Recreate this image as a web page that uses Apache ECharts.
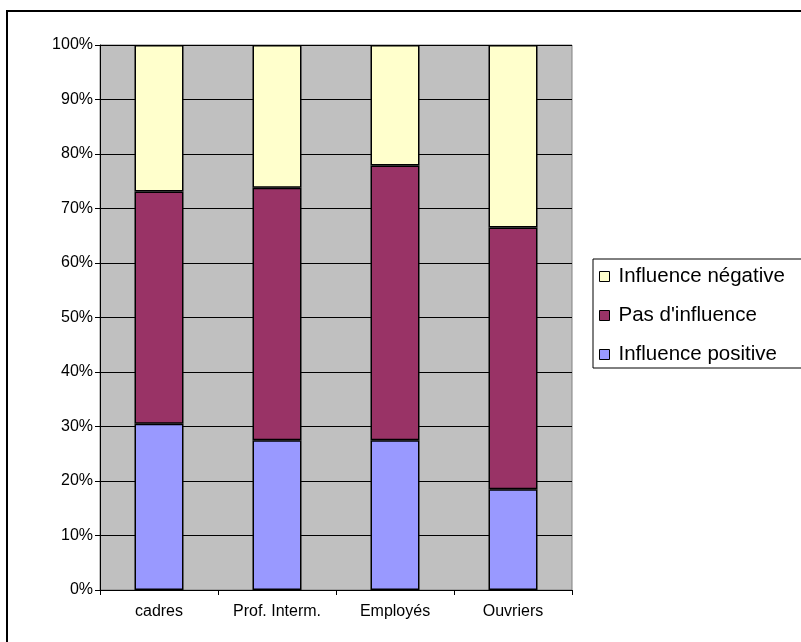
<!DOCTYPE html>
<html>
<head>
<meta charset="utf-8">
<script src="https://cdn.jsdelivr.net/npm/echarts@6/dist/echarts.min.js"></script>
<style>
html,body{margin:0;padding:0;background:#fff;}
#c{width:801px;height:642px;}
</style>
</head>
<body>
<div id="c"></div>
<script>
var categories = ['cadres', 'Prof. Interm.', 'Employés', 'Ouvriers'];
var seriesNames = ['Influence positive', "Pas d'influence", 'Influence négative'];
var positive = [0.305, 0.275, 0.275, 0.185];
var pasInfluence = [0.426, 0.463, 0.504, 0.480];
var negative = [0.269, 0.262, 0.221, 0.335];
var yTicks = [0, 0.1, 0.2, 0.3, 0.4, 0.5, 0.6, 0.7, 0.8, 0.9, 1];

var colors = ['#9999FF', '#993366', '#FFFFCC'];
var font = 'Arial, "Liberation Sans", sans-serif';

var chart = echarts.init(document.getElementById('c'), null, {renderer: 'canvas'});

function mk(name, data, color) {
  return {
    name: name,
    type: 'bar',
    stack: 'total',
    barWidth: 49,
    data: data,
    itemStyle: {color: color, borderColor: '#000', borderWidth: 1.5},
    emphasis: {disabled: true}
  };
}

chart.setOption({
  animation: false,
  backgroundColor: '#fff',
  graphic: [{
    type: 'rect',
    shape: {x: 7, y: 11, width: 820, height: 660},
    style: {fill: 'none', stroke: '#000', lineWidth: 2},
    z: 100
  }],
  grid: {
    left: 100, top: 45, right: 229, bottom: 52,
    show: true, backgroundColor: '#C0C0C0', borderColor: '#808080', borderWidth: 1
  },
  legend: {
    orient: 'vertical',
    left: 593, top: 259,
    data: [seriesNames[2], seriesNames[1], seriesNames[0]],
    itemWidth: 10, itemHeight: 10, itemGap: 18,
    icon: 'rect',
    backgroundColor: '#fff', borderColor: '#000', borderWidth: 1,
    padding: [7, 40, 3, 6],
    selectedMode: false,
    itemStyle: {borderColor: '#000', borderWidth: 1},
    textStyle: {fontFamily: font, fontSize: 20.5, color: '#000', lineHeight: 20, padding: [0, 0, 0, 4]}
  },
  xAxis: {
    type: 'category',
    data: categories,
    axisLine: {show: true, lineStyle: {color: '#000', width: 1}},
    axisTick: {show: true, length: 5, lineStyle: {color: '#000'}},
    axisLabel: {fontFamily: font, fontSize: 16, color: '#000', margin: 14},
    splitLine: {show: false}
  },
  yAxis: {
    type: 'value',
    min: yTicks[0], max: yTicks[yTicks.length - 1], interval: yTicks[1] - yTicks[0],
    axisLine: {show: true, lineStyle: {color: '#000', width: 1}},
    axisTick: {show: true, length: 5, lineStyle: {color: '#000'}},
    axisLabel: {
      fontFamily: font, fontSize: 16, color: '#000', margin: 7,
      formatter: function (v) { return Math.round(v * 100) + '%'; }
    },
    splitLine: {show: true, lineStyle: {color: '#000', width: 1}}
  },
  series: [
    mk(seriesNames[0], positive, colors[0]),
    mk(seriesNames[1], pasInfluence, colors[1]),
    mk(seriesNames[2], negative, colors[2])
  ]
});
</script>
</body>
</html>
